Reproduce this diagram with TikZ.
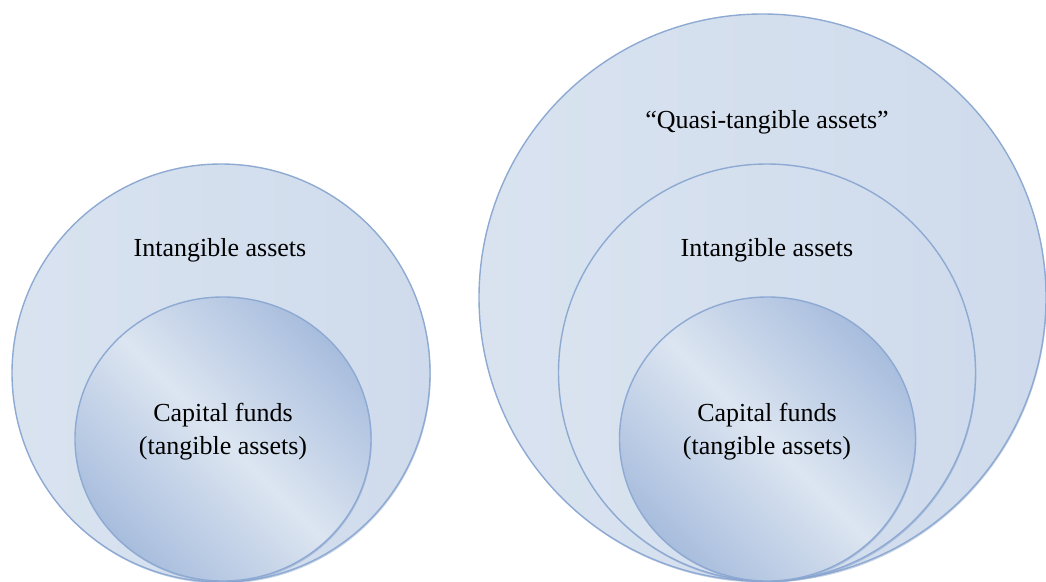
\documentclass[tikz,border=0pt]{standalone}
\usepackage{fontspec}
\setmainfont{Liberation Serif}
\usetikzlibrary{shapes.geometric,shadows}
\definecolor{ringfillB}{HTML}{CFDBEC}
\definecolor{ringfillA}{HTML}{D9E3F0}
\definecolor{ringline}{HTML}{8EAAD3}
\definecolor{coredark}{HTML}{A8BDDD}
\definecolor{corelight}{HTML}{DCE5F1}
\definecolor{shadowcol}{HTML}{7F9CC8}
\tikzset{
  ring/.style={circle, inner sep=0pt, draw=ringline, line width=1.4pt,
    left color=ringfillA, right color=ringfillB,
    drop shadow={shadow xshift=0.8pt, shadow yshift=-1.6pt, opacity=0.45, fill=shadowcol}},
  core/.style={ellipse, inner sep=0pt, draw=ringline, line width=1.4pt,
    top color=coredark, bottom color=coredark, middle color=corelight, shading angle=-45,
    drop shadow={shadow xshift=0.8pt, shadow yshift=-1.6pt, opacity=0.45, fill=shadowcol}},
  lbl/.style={inner sep=0pt, align=center, font=\fontsize{26}{33}\selectfont, text=black}
}
\begin{document}
\begin{tikzpicture}[x=1pt,y=-1pt]
\useasboundingbox (0,0) rectangle (1046,581);
% left group
\node[ring, minimum size=418pt] (LA) at (221,373) {};
\node[core, minimum width=296pt, minimum height=284pt] (LC) at (223,439) {};
\node[lbl] (LAt) at (220,250) {Intangible assets};
\node[lbl] (LCt) at (223,432) {Capital funds\\(tangible assets)};
% right group
\node[ring, minimum size=567pt] (RQ) at (762.5,297.5) {};
\node[ring, minimum size=417pt] (RA) at (767,372.5) {};
\node[core, minimum width=296pt, minimum height=284pt] (RC) at (767.5,439) {};
\node[lbl] (RQt) at (767,122) {“Quasi-tangible assets”};
\node[lbl] (RAt) at (767,250) {Intangible assets};
\node[lbl] (RCt) at (767,432) {Capital funds\\(tangible assets)};
\end{tikzpicture}
\end{document}
